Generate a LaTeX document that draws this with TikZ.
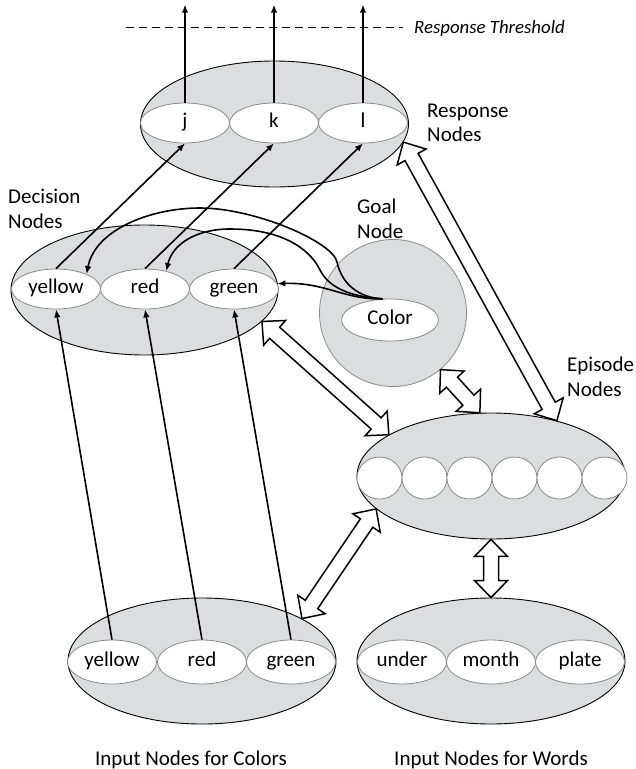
\documentclass[tikz,border=0pt]{standalone}
\usepackage{fontspec}
\setmainfont{Carlito}
\usetikzlibrary{calc,arrows.meta,shapes.geometric}
\definecolor{fillgray}{HTML}{DCDDDF}
\definecolor{linegray}{HTML}{8A8A8A}
\newcommand{\lblfont}{\fontsize{21}{25}\selectfont}
\newcommand{\thrfont}{\fontsize{18.8}{22}\selectfont}
\tikzset{
  outer/.style={ellipse, draw=black, line width=0.9pt, fill=fillgray, inner sep=0pt,
                minimum width=268pt, minimum height=126pt},
  unit/.style={ellipse, draw=linegray, line width=0.8pt, fill=white, inner sep=0pt,
               minimum width=89pt, minimum height=40pt, font=\lblfont,
               text height=14.6pt, text depth=5pt},
  epunit/.style={unit, minimum width=45pt, minimum height=42pt},
  link/.style={line width=1.6pt, -{Latex[length=8pt,width=6.5pt]}},
  blockarrow/.style={draw=black, line width=1.5pt, fill=white, line join=miter},
  lbl/.style={inner sep=0pt, anchor=base west, font=\lblfont},
}
\newcommand{\hollowarrow}[2]{%
  \path[blockarrow] let \p1=($(#2)-(#1)$), \n1={atan2(\y1,\x1)} in
    (#1)
    -- ([shift={(#1)},rotate=\n1]17pt,16.5pt)
    -- ([shift={(#1)},rotate=\n1]17pt,7.5pt)
    -- ([shift={(#2)},rotate=\n1]-17pt,7.5pt)
    -- ([shift={(#2)},rotate=\n1]-17pt,16.5pt)
    -- (#2)
    -- ([shift={(#2)},rotate=\n1]-17pt,-16.5pt)
    -- ([shift={(#2)},rotate=\n1]-17pt,-7.5pt)
    -- ([shift={(#1)},rotate=\n1]17pt,-7.5pt)
    -- ([shift={(#1)},rotate=\n1]17pt,-16.5pt)
    -- cycle;}
\begin{document}
\begin{tikzpicture}[x=1pt,y=-1pt]
\useasboundingbox (0,0) rectangle (636,769);

% Response nodes
\node[outer] (resp) at (274.5,124) {};
\node[unit] (j) at (185,123) {j};
\node[unit] (k) at (274,123) {k};
\node[unit] (l) at (363,123) {l};

% Decision nodes
\node[outer, minimum width=267pt, minimum height=130pt] (dec) at (144.5,290) {};
\node[unit] (dy) at (56,289) {yellow};
\node[unit] (dr) at (145,289) {red};
\node[unit] (dg) at (234,289) {green};

% Goal node
\node[circle, draw=linegray, line width=0.8pt, fill=fillgray, minimum size=147pt, inner sep=0pt] (goal) at (393,313) {};
\node[unit, minimum width=97pt, minimum height=42pt] (col) at (390,320) {Color};

% Episode nodes
\node[outer] (ep) at (491,476) {};
\foreach \i in {0,...,5}{
  \node[epunit] (e\i) at ({379.5+45*\i},478) {};
}

% Input nodes for colors
\node[outer] (inc) at (202,661) {};
\node[unit, minimum height=44pt] (iy) at (112,662) {yellow};
\node[unit, minimum height=44pt] (ir) at (202,662) {red};
\node[unit, minimum height=44pt] (ig) at (291,662) {green};

% Input nodes for words
\node[outer] (inw) at (491,661) {};
\node[unit, minimum height=44pt] (iu) at (402,662) {under};
\node[unit, minimum height=44pt] (im) at (491,662) {month};
\node[unit, minimum height=44pt] (ip) at (580,662) {plate};

% Labels
\node[lbl] (rl1) at (427,117) {Response};
\node[lbl] (rl2) at (427,141) {Nodes};
\node[lbl] (dl1) at (8,203) {Decision};
\node[lbl] (dl2) at (8,228) {Nodes};
\node[lbl] (gl1) at (357,213) {Goal};
\node[lbl] (gl2) at (357,238) {Node};
\node[lbl] (el1) at (567,371) {Episode};
\node[lbl] (el2) at (567,396) {Nodes};
\node[inner sep=0pt, anchor=base, font=\lblfont] (icl) at (191,765) {Input Nodes for Colors};
\node[inner sep=0pt, anchor=base, font=\lblfont] (iwl) at (491,765) {Input Nodes for Words};

% Response threshold
\coordinate (th1) at (126,27);
\coordinate (th2) at (403,27);
\draw[line width=1pt, dash pattern=on 8pt off 5pt] (th1) -- (th2);
\node[inner sep=0pt, anchor=base west, font=\thrfont\itshape] (thr) at (414,33) {Response Threshold};

% Output arrows
\coordinate (jt) at ($(j.north)+(0,-98)$);
\coordinate (kt) at ($(k.north)+(0,-98)$);
\coordinate (lt) at ($(l.north)+(0,-98)$);
\draw[link] (j.north) -- (jt);
\draw[link] (k.north) -- (kt);
\draw[link] (l.north) -- (lt);

% Decision -> response
\draw[link] (dy.north) -- (j.south);
\draw[link] (dr.north) -- (k.south);
\draw[link] (dg.north) -- (l.south);

% Input -> decision
\draw[link] (iy.north) -- (dy.south);
\draw[link] (ir.north) -- (dr.south);
\draw[link] (ig.north) -- (dg.south);

% Goal -> decision curves
\draw[link] (col.109) .. controls (360,298) and (342,285) .. (337,262)
  .. controls (333,242) and (255,208) .. (200,208)
  .. controls (150,208) and (95,230) .. (dy.26);
\draw[link] (col.109) .. controls (355,297) and (330,290) .. (320,270)
  .. controls (313,255) and (290,229) .. (230,229)
  .. controls (195,229) and (172,245) .. (dr.40);
\draw[link] (col.109) .. controls (345,300) and (325,282) .. (dg.7);

% Hollow double arrows
\hollowarrow{resp.-8.5}{ep.40.5}
\hollowarrow{dec.-15}{ep.158}
\hollowarrow{goal.-50}{ep.100}
\hollowarrow{ep.196}{inc.23}
\hollowarrow{ep.south}{inw.north}
\end{tikzpicture}
\end{document}
